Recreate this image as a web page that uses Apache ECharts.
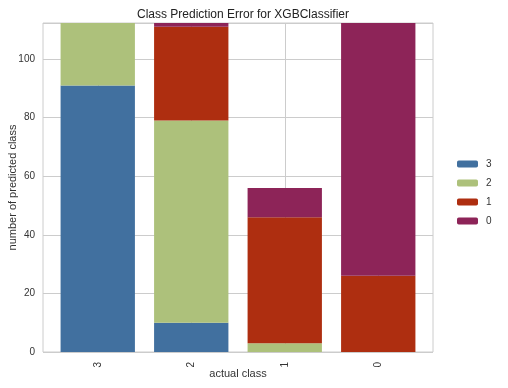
<!DOCTYPE html>
<html><head><meta charset="utf-8">
<script src="https://cdn.jsdelivr.net/npm/echarts@6/dist/echarts.min.js"></script>
<style>html,body{margin:0;padding:0;background:#fff}#c{width:508px;height:388px}</style>
</head><body><div id="c"></div>
<script>
const categories = ['3', '2', '1', '0'];
const seriesNames = ['3', '2', '1', '0'];
const values3 = [91, 10, 0, 0];
const values2 = [30, 69, 3, 0];
const values1 = [0, 32, 43, 26];
const values0 = [0, 3, 10, 100];
const yTicks = [0, 20, 40, 60, 80, 100];

const colors = ['#41709f', '#adc17b', '#ae2e10', '#8d2458'];
const font = 'Liberation Sans, Arial, sans-serif';
const yMax = 112.3;
const chart = echarts.init(document.getElementById('c'), null, {renderer: 'canvas'});
const allVals = [values3, values2, values1, values0];
const series = seriesNames.map((n, i) => ({
  name: n, type: 'bar', stack: 'total', data: allVals[i], z: 3,
  xAxisIndex: 1, yAxisIndex: 1,
  barCategoryGap: '20.5%', itemStyle: {color: colors[i]}, emphasis: {disabled: true}
}));
series.push({type: 'scatter', data: [], xAxisIndex: 0, yAxisIndex: 0, silent: true});
chart.setOption({
  animation: false,
  backgroundColor: '#ffffff',
  title: {text: 'Class Prediction Error for XGBClassifier', left: 238, top: 4, textAlign: 'center',
    textStyle: {fontFamily: font, fontSize: 12, fontWeight: 'normal', color: '#222'}},
  legend: {data: seriesNames, orient: 'vertical', left: 452, top: 154, itemWidth: 21, itemHeight: 7, itemGap: 9,
    icon: 'roundRect',
    textStyle: {fontFamily: font, fontSize: 10, color: '#333', padding: [0, 0, 0, 3]}},
  grid: [
    {left: 43, right: 75, top: 23, bottom: 36, outerBoundsMode: 'none', containLabel: false,
      show: true, borderColor: '#cccccc', borderWidth: 1, backgroundColor: '#fff'},
    {left: 51, right: 83, top: 23, bottom: 36, outerBoundsMode: 'none', containLabel: false, show: false}
  ],
  xAxis: [
    {type: 'value', gridIndex: 0, min: 0, max: 1, show: false},
    {type: 'category', gridIndex: 1, data: categories, name: 'actual class', nameLocation: 'middle', nameGap: 16,
      nameMoveOverlap: false,
      nameTextStyle: {fontFamily: font, fontSize: 11, color: '#333'},
      axisLine: {show: false}, axisTick: {show: false, alignWithLabel: true},
      splitLine: {show: true, alignWithLabel: true, lineStyle: {color: '#cccccc'}},
      axisLabel: {rotate: 90, fontFamily: font, fontSize: 10, color: '#333', margin: 10}}
  ],
  yAxis: [
    {type: 'value', gridIndex: 0, min: 0, max: yMax, interval: 20, name: 'number of predicted class', nameLocation: 'middle', nameGap: 25,
      nameMoveOverlap: false,
      nameTextStyle: {fontFamily: font, fontSize: 11, color: '#333'},
      axisLine: {show: false}, axisTick: {show: false},
      splitLine: {lineStyle: {color: '#cccccc'}},
      axisLabel: {fontFamily: font, fontSize: 10, color: '#333', margin: 8, showMaxLabel: false,
        formatter: v => yTicks.includes(v) ? String(v) : ''}},
    {type: 'value', gridIndex: 1, min: 0, max: yMax, show: false}
  ],
  series: series
});
</script></body></html>
